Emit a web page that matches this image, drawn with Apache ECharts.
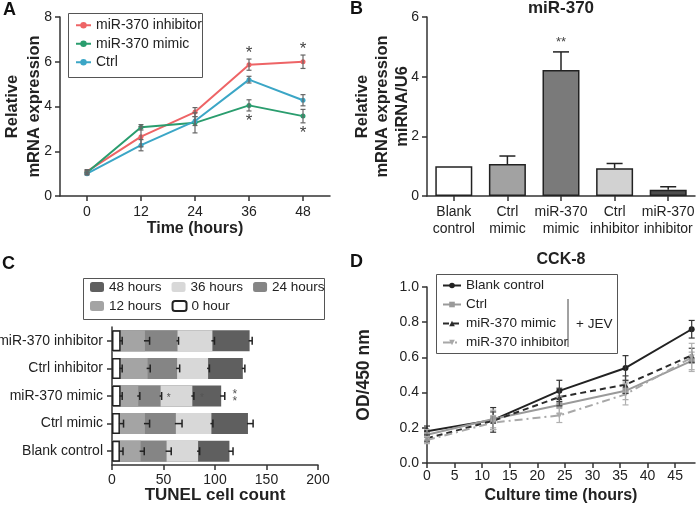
<!DOCTYPE html>
<html><head><meta charset="utf-8">
<script src="https://cdn.jsdelivr.net/npm/echarts@6/dist/echarts.min.js"></script>
<style>html,body{margin:0;padding:0;background:#fff}#c{width:698px;height:505px}</style>
</head><body><div id="c"></div>
<script>
// ---------- Panel A ----------
const aHours = ['0', '12', '24', '36', '48'];
const aInhibitor = [1.1, 2.65, 3.75, 5.87, 6.0];
const aInhibitorErr = [0.08, 0.45, 0.2, 0.25, 0.3];
const aMimic = [1.05, 3.07, 3.27, 4.05, 3.57];
const aMimicErr = [0.08, 0.12, 0.45, 0.25, 0.3];
const aCtrl = [1.0, 2.27, 3.35, 5.2, 4.28];
const aCtrlErr = [0.06, 0.25, 0.2, 0.15, 0.25];
const aInhibitorSig = ['', '', '', '*', '*'];
const aMimicSig = ['', '', '', '*', '*'];

// ---------- Panel B ----------
const bGroups = ['Blank\ncontrol', 'Ctrl\nmimic', 'miR-370\nmimic', 'Ctrl\ninhibitor', 'miR-370\ninhibitor'];
const bValues = [1.0, 1.07, 4.22, 0.93, 0.21];
const bErr = [0, 0.27, 0.61, 0.16, 0.1];
const bSig = ['', '', '**', '', ''];

// ---------- Panel C (listed bottom to top) ----------
const cGroups = ['Blank control', 'Ctrl mimic', 'miR-370 mimic', 'Ctrl inhibitor', 'miR-370 inhibitor'];
const c0h = [7.7, 7.7, 8.4, 8.4, 8.4];
const c0hErr = [3, 3.5, 1.5, 1.5, 1.5];
const c12h = [27.8, 32, 25.5, 34.6, 32];
const c12hErr = [3.5, 4.5, 1.5, 2.5, 4.5];
const c24h = [53, 62, 47.2, 63.2, 63.6];
const c24hErr = [4.5, 6, 1, 2.5, 1];
const c36h = [83.6, 96.5, 78, 93.3, 97.5];
const c36hErr = [1.5, 1.5, 1.5, 1.3, 2];
const c48h = [114, 132, 106, 127, 133.6];
const c48hErr = [3.5, 5, 3.5, 2, 2.5];
const c24hSig = ['', '', '*', '', ''];
const c36hSig = ['', '', '*', '', ''];
const c48hSig = ['', '', '*\n*', '', ''];
const cLegendRow1 = ['48 hours', '36 hours', '24 hours'];
const cLegendRow2 = ['12 hours', '0 hour'];

// ---------- Panel D ----------
const dHours = [0, 12, 24, 36, 48];
const dBlank = [0.18, 0.245, 0.41, 0.54, 0.76];
const dBlankErr = [0.03, 0.07, 0.06, 0.07, 0.05];
const dCtrl = [0.16, 0.25, 0.33, 0.41, 0.58];
const dCtrlErr = [0.03, 0.05, 0.05, 0.05, 0.05];
const dMimic = [0.14, 0.24, 0.375, 0.445, 0.612];
const dMimicErr = [0.02, 0.05, 0.05, 0.05, 0.04];
const dInhibitor = [0.13, 0.23, 0.27, 0.39, 0.6];
const dInhibitorErr = [0.02, 0.04, 0.04, 0.06, 0.08];

// ---------- helpers ----------
const FONT = '"Liberation Sans", Arial, Helvetica, sans-serif';
const AX = '#333';
const axisLine = { show: true, lineStyle: { color: AX, width: 1.5 } };
const axisTick = { show: true, length: 5, lineStyle: { color: AX, width: 1.5 } };
const lbl = (extra) => Object.assign({ color: '#222', fontSize: 14, fontFamily: FONT }, extra || {});
const nameStyle = (size, extra) => Object.assign({ color: '#222', fontSize: size, fontWeight: 'bold', fontFamily: FONT }, extra || {});

function vErrSeries(xi, yi, xs, ys, es, color, capHalf, upOnly, lw) {
  return {
    type: 'custom', xAxisIndex: xi, yAxisIndex: yi, z: 5, clip: false, silent: true,
    encode: { x: 0, y: 1 },
    data: ys.map((v, i) => [xs[i], v, es[i]]),
    renderItem: function (params, api) {
      const x = api.value(0), y = api.value(1), e = api.value(2);
      if (!e) return null;
      const hi = api.coord([x, y + e]);
      const lo = api.coord([x, upOnly ? y : y - e]);
      const st = { stroke: color, lineWidth: lw || 1.5 };
      const ch = [
        { type: 'line', shape: { x1: hi[0], y1: hi[1], x2: lo[0], y2: lo[1] }, style: st },
        { type: 'line', shape: { x1: hi[0] - capHalf, y1: hi[1], x2: hi[0] + capHalf, y2: hi[1] }, style: st }
      ];
      if (!upOnly) ch.push({ type: 'line', shape: { x1: lo[0] - capHalf, y1: lo[1], x2: lo[0] + capHalf, y2: lo[1] }, style: st });
      return { type: 'group', children: ch };
    }
  };
}
function hErrSeries(xi, yi, vals, es, color) {
  return {
    type: 'custom', xAxisIndex: xi, yAxisIndex: yi, z: 5, clip: false, silent: true,
    encode: { x: 0, y: 1 },
    data: vals.map((v, i) => [v, i, es[i]]),
    renderItem: function (params, api) {
      const v = api.value(0), c = api.value(1), e = api.value(2);
      const a = api.coord([v, c]);
      const b = api.coord([v + e, c]);
      const st = { stroke: color, lineWidth: 1.5 };
      return { type: 'group', children: [
        { type: 'line', shape: { x1: a[0] - 1, y1: a[1], x2: b[0], y2: b[1] }, style: st },
        { type: 'line', shape: { x1: b[0], y1: b[1] - 4, x2: b[0], y2: b[1] + 4 }, style: st }
      ] };
    }
  };
}
function vSigSeries(xi, yi, xs, ys, es, sig, dir, offset, size) {
  return {
    type: 'custom', xAxisIndex: xi, yAxisIndex: yi, z: 6, clip: false, silent: true,
    encode: { x: 0, y: 1 },
    data: ys.map((v, i) => [xs[i], v + dir * es[i]]),
    renderItem: function (params, api) {
      const t = sig[params.dataIndex];
      if (!t) return null;
      const p = api.coord([api.value(0), api.value(1)]);
      return { type: 'text', style: { text: t, x: p[0], y: p[1] - dir * offset, align: 'center', verticalAlign: 'middle', fill: '#444', fontSize: size, fontFamily: FONT } };
    }
  };
}
function hSigSeries(xi, yi, vals, es, sig, size, lh, gap) {
  return {
    type: 'custom', xAxisIndex: xi, yAxisIndex: yi, z: 6, clip: false, silent: true,
    encode: { x: 0, y: 1 },
    data: vals.map((v, i) => [v + es[i], i]),
    renderItem: function (params, api) {
      const t = sig[params.dataIndex];
      if (!t) return null;
      const p = api.coord([api.value(0), api.value(1)]);
      return { type: 'text', style: { text: t, x: p[0] + gap, y: p[1] + 2, align: 'center', verticalAlign: 'middle', fill: '#555', fontSize: size, lineHeight: lh, fontFamily: FONT } };
    }
  };
}
const idx5 = [0, 1, 2, 3, 4];

// ---------- series ----------
const aColors = { inh: '#ee6466', mim: '#2a9d6e', ctrl: '#3ba6c6' };
const bBarColors = ['#ffffff', '#a2a2a2', '#7a7a7a', '#d2d2d2', '#4e4e4e'];
const cColors = { h48: '#5f5f5f', h36: '#d8d8d8', h24: '#858585', h12: '#a4a4a4', h0: '#ffffff' };

const aLine = (name, data, color) => ({
  name: name, type: 'line', xAxisIndex: 0, yAxisIndex: 0, data: data,
  symbol: 'circle', symbolSize: 5, color: color,
  lineStyle: { width: 2, color: color }, itemStyle: { color: color }, z: 3
});
const cBar = (name, data, color, border) => ({
  name: name, type: 'bar', xAxisIndex: 2, yAxisIndex: 2, data: data,
  barWidth: 21, barGap: '-100%', color: color,
  itemStyle: { color: color, borderColor: border ? '#222' : color, borderWidth: border ? 1.5 : 0 }
});
const dLine = (name, data, color, symbol, lineType, rot) => ({
  name: name, type: 'line', xAxisIndex: 3, yAxisIndex: 3,
  data: data.map((v, i) => [dHours[i], v]),
  symbol: symbol, symbolSize: 6, symbolRotate: rot || 0, color: color,
  lineStyle: { width: 2, color: color, type: lineType }, itemStyle: { color: color }, z: 3
});

const series = [
  aLine('A:miR-370 inhibitor', aInhibitor, aColors.inh),
  aLine('A:miR-370 mimic', aMimic, aColors.mim),
  aLine('A:Ctrl', aCtrl, aColors.ctrl),
  vErrSeries(0, 0, idx5, aInhibitor, aInhibitorErr, '#666', 2.5, false, 1.2),
  vErrSeries(0, 0, idx5, aMimic, aMimicErr, '#666', 2.5, false, 1.2),
  vErrSeries(0, 0, idx5, aCtrl, aCtrlErr, '#666', 2.5, false, 1.2),
  vSigSeries(0, 0, idx5, aInhibitor, aInhibitorErr, aInhibitorSig, 1, 6, 17),
  vSigSeries(0, 0, idx5, aMimic, aMimicErr, aMimicSig, -1, 10, 17),

  {
    name: 'B', type: 'bar', xAxisIndex: 1, yAxisIndex: 1, barWidth: 37,
    data: bValues.map((v, i) => ({ value: v, itemStyle: { color: bBarColors[i], borderColor: '#222', borderWidth: 1.5 } }))
  },
  vErrSeries(1, 1, idx5, bValues, bErr, '#222', 8, true, 1.5),
  vSigSeries(1, 1, idx5, bValues, bErr, bSig, 1, 9, 13),

  cBar('48 hours', c48h, cColors.h48),
  cBar('36 hours', c36h, cColors.h36),
  cBar('24 hours', c24h, cColors.h24),
  cBar('12 hours', c12h, cColors.h12),
  cBar('0 hour', c0h, cColors.h0, true),
  hErrSeries(2, 2, c48h, c48hErr, '#222'),
  hErrSeries(2, 2, c36h, c36hErr, '#222'),
  hErrSeries(2, 2, c24h, c24hErr, '#222'),
  hErrSeries(2, 2, c12h, c12hErr, '#222'),
  hErrSeries(2, 2, c0h, c0hErr, '#222'),
  hSigSeries(2, 2, c24h, c24hErr, c24hSig, 10, 10, 7),
  hSigSeries(2, 2, c36h, c36hErr, c36hSig, 10, 10, 8),
  hSigSeries(2, 2, c48h, c48hErr, c48hSig, 12, 7, 10),

  dLine('D:Blank control', dBlank, '#222', 'circle', 'solid'),
  dLine('D:Ctrl', dCtrl, '#9a9a9a', 'rect', 'solid'),
  dLine('D:miR-370 mimic', dMimic, '#2a2a2a', 'triangle', [6, 4]),
  dLine('D:miR-370 inhibitor', dInhibitor, '#a8a8a8', 'triangle', [8, 4, 2, 4], 180),
  vErrSeries(3, 3, dHours, dBlank, dBlankErr, '#333', 3, false, 1.2),
  vErrSeries(3, 3, dHours, dCtrl, dCtrlErr, '#aaa', 3, false, 1.2),
  vErrSeries(3, 3, dHours, dMimic, dMimicErr, '#444', 3, false, 1.2),
  vErrSeries(3, 3, dHours, dInhibitor, dInhibitorErr, '#b0b0b0', 3, false, 1.2)
];

const strip = (n) => n.replace(/^[AD]:/, '');
const boxStyle = { fill: 'none', stroke: '#555', lineWidth: 1 };

const option = {
  animation: false,
  backgroundColor: '#fff',
  textStyle: { fontFamily: FONT },
  grid: [
    { left: 60, top: 17, width: 270, height: 179, outerBoundsMode: 'none' },
    { left: 427, top: 17, width: 268, height: 179, outerBoundsMode: 'none' },
    { left: 112, top: 327, width: 206, height: 138, outerBoundsMode: 'none' },
    { left: 427, top: 287, width: 268, height: 176, outerBoundsMode: 'none' }
  ],
  xAxis: [
    { gridIndex: 0, type: 'category', data: aHours, axisLine: axisLine, axisTick: Object.assign({ alignWithLabel: true }, axisTick),
      axisLabel: lbl({ margin: 9 }), splitLine: { show: false },
      name: 'Time (hours)', nameLocation: 'middle', nameGap: 25, nameMoveOverlap: false, nameTextStyle: nameStyle(16) },
    { gridIndex: 1, type: 'category', data: bGroups, axisLine: axisLine, axisTick: Object.assign({ alignWithLabel: true }, axisTick),
      axisLabel: lbl({ margin: 8, lineHeight: 16.5, interval: 0 }), splitLine: { show: false } },
    { gridIndex: 2, type: 'value', min: 0, max: 200, interval: 50, axisLine: axisLine, axisTick: axisTick,
      axisLabel: lbl({ margin: 8 }), splitLine: { show: false },
      name: 'TUNEL cell count', nameLocation: 'middle', nameGap: 22, nameMoveOverlap: false, nameTextStyle: nameStyle(17) },
    { gridIndex: 3, type: 'value', min: 0, max: 48.6, interval: 5, axisLine: axisLine, axisTick: axisTick,
      axisLabel: lbl({ margin: 6, showMaxLabel: false }), splitLine: { show: false },
      name: 'Culture time (hours)', nameLocation: 'middle', nameGap: 25, nameMoveOverlap: false, nameTextStyle: nameStyle(16) }
  ],
  yAxis: [
    { gridIndex: 0, type: 'value', min: 0, max: 8, interval: 2, axisLine: axisLine, axisTick: axisTick,
      axisLabel: lbl({ margin: 8 }), splitLine: { show: false },
      name: 'Relative\nmRNA expression', nameLocation: 'middle', nameGap: 15, nameMoveOverlap: false, nameTextStyle: nameStyle(16.5, { lineHeight: 22 }) },
    { gridIndex: 1, type: 'value', min: 0, max: 6, interval: 2, axisLine: axisLine, axisTick: axisTick,
      axisLabel: lbl({ margin: 8 }), splitLine: { show: false },
      name: 'Relative\nmRNA expression\nmiRNA/U6', nameLocation: 'middle', nameGap: 15, nameMoveOverlap: false, nameTextStyle: nameStyle(16.5, { lineHeight: 20 }) },
    { gridIndex: 2, type: 'category', data: cGroups, axisLine: axisLine, axisTick: Object.assign({ alignWithLabel: true }, axisTick),
      axisLabel: lbl({ margin: 9, interval: 0 }), splitLine: { show: false } },
    { gridIndex: 3, type: 'value', min: 0, max: 1, interval: 0.2, axisLine: axisLine, axisTick: axisTick,
      axisLabel: lbl({ margin: 8, formatter: (v) => v.toFixed(1) }), splitLine: { show: false },
      name: 'OD/450 nm', nameLocation: 'middle', nameGap: 54, nameMoveOverlap: false, nameTextStyle: nameStyle(17.5) }
  ],
  legend: [
    { data: ['A:miR-370 inhibitor', 'A:miR-370 mimic', 'A:Ctrl'], formatter: strip, orient: 'vertical',
      left: 75, top: 16, padding: 0, itemGap: 0, itemWidth: 15, itemHeight: 8, selectedMode: false,
      textStyle: { fontSize: 14, lineHeight: 18.5, color: '#222', fontFamily: FONT } },
    { data: cLegendRow1, orient: 'horizontal', left: 90, top: 280, padding: 0, itemGap: 10, itemWidth: 14, itemHeight: 10,
      selectedMode: false, textStyle: { fontSize: 13.5, color: '#222', fontFamily: FONT } },
    { data: cLegendRow2, orient: 'horizontal', left: 90, top: 299, padding: 0, itemGap: 10, itemWidth: 14, itemHeight: 10,
      selectedMode: false, textStyle: { fontSize: 13.5, color: '#222', fontFamily: FONT } },
    { data: ['D:Blank control', 'D:Ctrl', 'D:miR-370 mimic', 'D:miR-370 inhibitor'], formatter: strip, orient: 'vertical',
      left: 442, top: 276, padding: 0, itemGap: 0, itemWidth: 18, itemHeight: 7, selectedMode: false,
      textStyle: { fontSize: 13.5, lineHeight: 19, color: '#222', fontFamily: FONT } }
  ],
  graphic: [
    { type: 'rect', z: 100, shape: { x: 68.5, y: 13.5, width: 134, height: 64 }, style: boxStyle },
    { type: 'rect', z: 100, shape: { x: 83.5, y: 278.5, width: 241, height: 41 }, style: boxStyle },
    { type: 'rect', z: 100, shape: { x: 436.5, y: 274.5, width: 181, height: 79 }, style: boxStyle },
    { type: 'text', left: 3, top: 1, style: { text: 'A', fontSize: 18, fontWeight: 'bold', fill: '#111', fontFamily: FONT } },
    { type: 'text', left: 350, top: 0, style: { text: 'B', fontSize: 18, fontWeight: 'bold', fill: '#111', fontFamily: FONT } },
    { type: 'text', left: 2, top: 255, style: { text: 'C', fontSize: 18, fontWeight: 'bold', fill: '#111', fontFamily: FONT } },
    { type: 'text', left: 350, top: 253, style: { text: 'D', fontSize: 18, fontWeight: 'bold', fill: '#111', fontFamily: FONT } },
    { type: 'text', x: 561, y: 8, style: { text: 'miR-370', fontSize: 17, fontWeight: 'bold', fill: '#222', align: 'center', verticalAlign: 'middle', fontFamily: FONT } },
    { type: 'text', x: 561, y: 260, style: { text: 'CCK-8', fontSize: 16, fontWeight: 'bold', fill: '#222', align: 'center', verticalAlign: 'middle', fontFamily: FONT } },
    { type: 'line', z: 100, shape: { x1: 568, y1: 299, x2: 568, y2: 347 }, style: { stroke: '#444', lineWidth: 1 } },
    { type: 'text', z: 100, x: 576, y: 324, style: { text: '+ JEV', fontSize: 13.5, fill: '#222', align: 'left', verticalAlign: 'middle', fontFamily: FONT } }
  ],
  series: series
};

const chart = echarts.init(document.getElementById('c'), null, { renderer: 'canvas' });
chart.setOption(option);
</script>
</body></html>
